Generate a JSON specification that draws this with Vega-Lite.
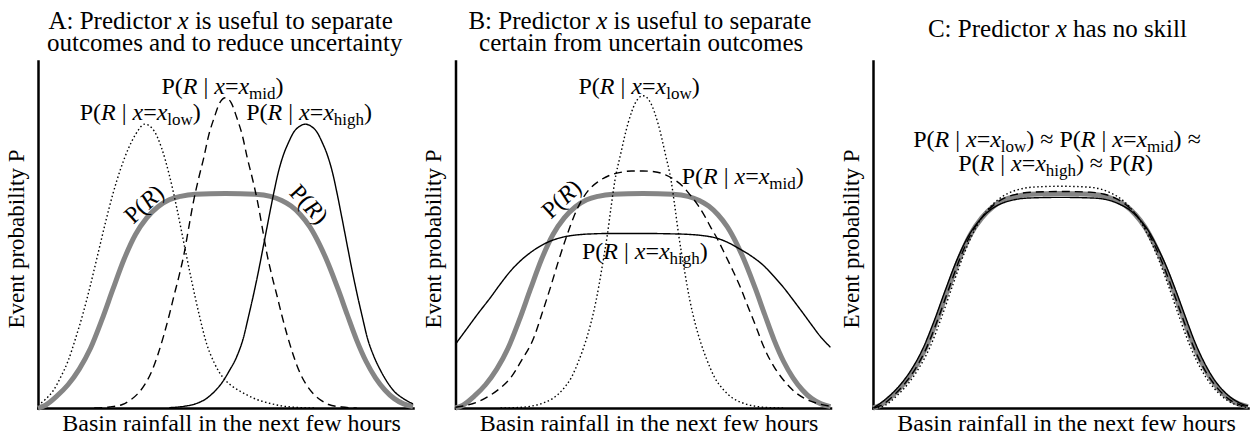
{
  "$schema": "https://vega.github.io/schema/vega-lite/v6.json",
  "padding": {"left": 5, "top": 9, "right": 0, "bottom": 0},
  "config": {
    "font": "Liberation Serif",
    "view": {"stroke": null},
    "axis": {"grid": false, "ticks": false, "labels": false, "domainColor": "#000", "domainWidth": 2.5, "domainCap": "square", "titleFont": "Liberation Serif", "titleFontWeight": "normal", "titleColor": "#000"},
    "text": {"font": "Liberation Serif", "baseline": "alphabetic", "fontSize": 24, "color": "#000"}
  },
  "data": {"values": [
    {"panel":"A","curve":"marginal","rain":0,"prob":0},{"panel":"A","curve":"marginal","rain":2,"prob":0.008},{"panel":"A","curve":"marginal","rain":5,"prob":0.034},{"panel":"A","curve":"marginal","rain":8,"prob":0.067},{"panel":"A","curve":"marginal","rain":11,"prob":0.112},{"panel":"A","curve":"marginal","rain":14,"prob":0.172},{"panel":"A","curve":"marginal","rain":17,"prob":0.253},{"panel":"A","curve":"marginal","rain":20,"prob":0.343},{"panel":"A","curve":"marginal","rain":23,"prob":0.43},{"panel":"A","curve":"marginal","rain":26,"prob":0.5},{"panel":"A","curve":"marginal","rain":29,"prob":0.548},{"panel":"A","curve":"marginal","rain":32,"prob":0.58},{"panel":"A","curve":"marginal","rain":35,"prob":0.6},{"panel":"A","curve":"marginal","rain":38,"prob":0.61},{"panel":"A","curve":"marginal","rain":42,"prob":0.616},{"panel":"A","curve":"marginal","rain":50,"prob":0.618},{"panel":"A","curve":"marginal","rain":58,"prob":0.616},{"panel":"A","curve":"marginal","rain":62,"prob":0.61},{"panel":"A","curve":"marginal","rain":65,"prob":0.598},{"panel":"A","curve":"marginal","rain":67.5,"prob":0.582},{"panel":"A","curve":"marginal","rain":70,"prob":0.557},{"panel":"A","curve":"marginal","rain":72.5,"prob":0.522},{"panel":"A","curve":"marginal","rain":75,"prob":0.473},{"panel":"A","curve":"marginal","rain":77.5,"prob":0.413},{"panel":"A","curve":"marginal","rain":80,"prob":0.343},{"panel":"A","curve":"marginal","rain":82.5,"prob":0.268},{"panel":"A","curve":"marginal","rain":85,"prob":0.195},{"panel":"A","curve":"marginal","rain":87.5,"prob":0.134},{"panel":"A","curve":"marginal","rain":90,"prob":0.087},{"panel":"A","curve":"marginal","rain":92.5,"prob":0.052},{"panel":"A","curve":"marginal","rain":95,"prob":0.027},{"panel":"A","curve":"marginal","rain":97.5,"prob":0.012},{"panel":"A","curve":"marginal","rain":100,"prob":0.004},
    {"panel":"B","curve":"marginal","rain":0,"prob":0},{"panel":"B","curve":"marginal","rain":2,"prob":0.008},{"panel":"B","curve":"marginal","rain":5,"prob":0.034},{"panel":"B","curve":"marginal","rain":8,"prob":0.067},{"panel":"B","curve":"marginal","rain":11,"prob":0.112},{"panel":"B","curve":"marginal","rain":14,"prob":0.172},{"panel":"B","curve":"marginal","rain":17,"prob":0.253},{"panel":"B","curve":"marginal","rain":20,"prob":0.343},{"panel":"B","curve":"marginal","rain":23,"prob":0.43},{"panel":"B","curve":"marginal","rain":26,"prob":0.5},{"panel":"B","curve":"marginal","rain":29,"prob":0.548},{"panel":"B","curve":"marginal","rain":32,"prob":0.58},{"panel":"B","curve":"marginal","rain":35,"prob":0.6},{"panel":"B","curve":"marginal","rain":38,"prob":0.61},{"panel":"B","curve":"marginal","rain":42,"prob":0.616},{"panel":"B","curve":"marginal","rain":50,"prob":0.618},{"panel":"B","curve":"marginal","rain":58,"prob":0.616},{"panel":"B","curve":"marginal","rain":62,"prob":0.61},{"panel":"B","curve":"marginal","rain":65,"prob":0.598},{"panel":"B","curve":"marginal","rain":67.5,"prob":0.582},{"panel":"B","curve":"marginal","rain":70,"prob":0.557},{"panel":"B","curve":"marginal","rain":72.5,"prob":0.522},{"panel":"B","curve":"marginal","rain":75,"prob":0.473},{"panel":"B","curve":"marginal","rain":77.5,"prob":0.413},{"panel":"B","curve":"marginal","rain":80,"prob":0.343},{"panel":"B","curve":"marginal","rain":82.5,"prob":0.268},{"panel":"B","curve":"marginal","rain":85,"prob":0.195},{"panel":"B","curve":"marginal","rain":87.5,"prob":0.134},{"panel":"B","curve":"marginal","rain":90,"prob":0.087},{"panel":"B","curve":"marginal","rain":92.5,"prob":0.052},{"panel":"B","curve":"marginal","rain":95,"prob":0.027},{"panel":"B","curve":"marginal","rain":97.5,"prob":0.012},{"panel":"B","curve":"marginal","rain":100,"prob":0.004},
    {"panel":"C","curve":"marginal","rain":0,"prob":0},{"panel":"C","curve":"marginal","rain":2,"prob":0.008},{"panel":"C","curve":"marginal","rain":5,"prob":0.034},{"panel":"C","curve":"marginal","rain":8,"prob":0.067},{"panel":"C","curve":"marginal","rain":11,"prob":0.112},{"panel":"C","curve":"marginal","rain":14,"prob":0.172},{"panel":"C","curve":"marginal","rain":17,"prob":0.253},{"panel":"C","curve":"marginal","rain":20,"prob":0.343},{"panel":"C","curve":"marginal","rain":23,"prob":0.43},{"panel":"C","curve":"marginal","rain":26,"prob":0.5},{"panel":"C","curve":"marginal","rain":29,"prob":0.548},{"panel":"C","curve":"marginal","rain":32,"prob":0.58},{"panel":"C","curve":"marginal","rain":35,"prob":0.6},{"panel":"C","curve":"marginal","rain":38,"prob":0.61},{"panel":"C","curve":"marginal","rain":42,"prob":0.616},{"panel":"C","curve":"marginal","rain":50,"prob":0.618},{"panel":"C","curve":"marginal","rain":58,"prob":0.616},{"panel":"C","curve":"marginal","rain":62,"prob":0.61},{"panel":"C","curve":"marginal","rain":65,"prob":0.598},{"panel":"C","curve":"marginal","rain":67.5,"prob":0.582},{"panel":"C","curve":"marginal","rain":70,"prob":0.557},{"panel":"C","curve":"marginal","rain":72.5,"prob":0.522},{"panel":"C","curve":"marginal","rain":75,"prob":0.473},{"panel":"C","curve":"marginal","rain":77.5,"prob":0.413},{"panel":"C","curve":"marginal","rain":80,"prob":0.343},{"panel":"C","curve":"marginal","rain":82.5,"prob":0.268},{"panel":"C","curve":"marginal","rain":85,"prob":0.195},{"panel":"C","curve":"marginal","rain":87.5,"prob":0.134},{"panel":"C","curve":"marginal","rain":90,"prob":0.087},{"panel":"C","curve":"marginal","rain":92.5,"prob":0.052},{"panel":"C","curve":"marginal","rain":95,"prob":0.027},{"panel":"C","curve":"marginal","rain":97.5,"prob":0.012},{"panel":"C","curve":"marginal","rain":100,"prob":0.004},

    {"panel":"A","curve":"low","rain":0,"prob":0.008},{"panel":"A","curve":"low","rain":2,"prob":0.025},{"panel":"A","curve":"low","rain":4,"prob":0.049},{"panel":"A","curve":"low","rain":6,"prob":0.088},{"panel":"A","curve":"low","rain":8,"prob":0.135},{"panel":"A","curve":"low","rain":10,"prob":0.2},{"panel":"A","curve":"low","rain":12,"prob":0.272},{"panel":"A","curve":"low","rain":14,"prob":0.355},{"panel":"A","curve":"low","rain":16,"prob":0.445},{"panel":"A","curve":"low","rain":18,"prob":0.535},{"panel":"A","curve":"low","rain":20,"prob":0.618},{"panel":"A","curve":"low","rain":22,"prob":0.688},{"panel":"A","curve":"low","rain":24,"prob":0.745},{"panel":"A","curve":"low","rain":26,"prob":0.788},{"panel":"A","curve":"low","rain":28.5,"prob":0.818},{"panel":"A","curve":"low","rain":31,"prob":0.798},{"panel":"A","curve":"low","rain":33,"prob":0.748},{"panel":"A","curve":"low","rain":35,"prob":0.672},{"panel":"A","curve":"low","rain":37,"prob":0.577},{"panel":"A","curve":"low","rain":39,"prob":0.47},{"panel":"A","curve":"low","rain":41,"prob":0.365},{"panel":"A","curve":"low","rain":43,"prob":0.268},{"panel":"A","curve":"low","rain":45,"prob":0.184},{"panel":"A","curve":"low","rain":47,"prob":0.13},{"panel":"A","curve":"low","rain":49.3,"prob":0.088},{"panel":"A","curve":"low","rain":51.5,"prob":0.065},{"panel":"A","curve":"low","rain":53.8,"prob":0.049},{"panel":"A","curve":"low","rain":56,"prob":0.036},{"panel":"A","curve":"low","rain":58.2,"prob":0.025},{"panel":"A","curve":"low","rain":60.5,"prob":0.017},{"panel":"A","curve":"low","rain":62.7,"prob":0.011},{"panel":"A","curve":"low","rain":65,"prob":0.006},{"panel":"A","curve":"low","rain":67.3,"prob":0.003},{"panel":"A","curve":"low","rain":70,"prob":0.001},{"panel":"A","curve":"low","rain":74,"prob":0},

    {"panel":"A","curve":"mid","rain":15,"prob":0},{"panel":"A","curve":"mid","rain":19,"prob":0.003},{"panel":"A","curve":"mid","rain":22.5,"prob":0.01},{"panel":"A","curve":"mid","rain":24.5,"prob":0.022},{"panel":"A","curve":"mid","rain":26.5,"prob":0.04},{"panel":"A","curve":"mid","rain":28.5,"prob":0.068},{"panel":"A","curve":"mid","rain":30.5,"prob":0.11},{"panel":"A","curve":"mid","rain":32,"prob":0.155},{"panel":"A","curve":"mid","rain":33.5,"prob":0.208},{"panel":"A","curve":"mid","rain":35,"prob":0.268},{"panel":"A","curve":"mid","rain":36.3,"prob":0.325},{"panel":"A","curve":"mid","rain":37.6,"prob":0.38},{"panel":"A","curve":"mid","rain":39,"prob":0.447},{"panel":"A","curve":"mid","rain":40.2,"prob":0.52},{"panel":"A","curve":"mid","rain":41.5,"prob":0.597},{"panel":"A","curve":"mid","rain":42.8,"prob":0.66},{"panel":"A","curve":"mid","rain":44.2,"prob":0.721},{"panel":"A","curve":"mid","rain":45.5,"prob":0.785},{"panel":"A","curve":"mid","rain":47,"prob":0.837},{"panel":"A","curve":"mid","rain":48.5,"prob":0.88},{"panel":"A","curve":"mid","rain":50,"prob":0.894},{"panel":"A","curve":"mid","rain":51.5,"prob":0.88},{"panel":"A","curve":"mid","rain":53,"prob":0.837},{"panel":"A","curve":"mid","rain":54.5,"prob":0.785},{"panel":"A","curve":"mid","rain":55.8,"prob":0.721},{"panel":"A","curve":"mid","rain":57.2,"prob":0.66},{"panel":"A","curve":"mid","rain":58.5,"prob":0.597},{"panel":"A","curve":"mid","rain":59.8,"prob":0.52},{"panel":"A","curve":"mid","rain":61,"prob":0.447},{"panel":"A","curve":"mid","rain":62.4,"prob":0.38},{"panel":"A","curve":"mid","rain":63.7,"prob":0.325},{"panel":"A","curve":"mid","rain":65,"prob":0.268},{"panel":"A","curve":"mid","rain":66.5,"prob":0.208},{"panel":"A","curve":"mid","rain":68,"prob":0.155},{"panel":"A","curve":"mid","rain":69.5,"prob":0.11},{"panel":"A","curve":"mid","rain":71.5,"prob":0.068},{"panel":"A","curve":"mid","rain":73.5,"prob":0.04},{"panel":"A","curve":"mid","rain":75.5,"prob":0.022},{"panel":"A","curve":"mid","rain":77.5,"prob":0.01},{"panel":"A","curve":"mid","rain":81,"prob":0.003},{"panel":"A","curve":"mid","rain":85,"prob":0},

    {"panel":"A","curve":"high","rain":35,"prob":0.001},{"panel":"A","curve":"high","rain":39,"prob":0.005},{"panel":"A","curve":"high","rain":42,"prob":0.012},{"panel":"A","curve":"high","rain":45,"prob":0.028},{"panel":"A","curve":"high","rain":47.2,"prob":0.049},{"panel":"A","curve":"high","rain":49,"prob":0.072},{"panel":"A","curve":"high","rain":51,"prob":0.107},{"panel":"A","curve":"high","rain":53,"prob":0.148},{"panel":"A","curve":"high","rain":54.8,"prob":0.203},{"panel":"A","curve":"high","rain":56.1,"prob":0.262},{"panel":"A","curve":"high","rain":57.5,"prob":0.328},{"panel":"A","curve":"high","rain":58.9,"prob":0.4},{"panel":"A","curve":"high","rain":60.2,"prob":0.472},{"panel":"A","curve":"high","rain":61.5,"prob":0.545},{"panel":"A","curve":"high","rain":62.8,"prob":0.616},{"panel":"A","curve":"high","rain":64.1,"prob":0.68},{"panel":"A","curve":"high","rain":65.5,"prob":0.731},{"panel":"A","curve":"high","rain":66.8,"prob":0.765},{"panel":"A","curve":"high","rain":68.2,"prob":0.795},{"panel":"A","curve":"high","rain":69.8,"prob":0.812},{"panel":"A","curve":"high","rain":71.3,"prob":0.818},{"panel":"A","curve":"high","rain":72.8,"prob":0.812},{"panel":"A","curve":"high","rain":74.4,"prob":0.795},{"panel":"A","curve":"high","rain":75.8,"prob":0.765},{"panel":"A","curve":"high","rain":77.1,"prob":0.731},{"panel":"A","curve":"high","rain":78.5,"prob":0.68},{"panel":"A","curve":"high","rain":79.8,"prob":0.616},{"panel":"A","curve":"high","rain":81.1,"prob":0.545},{"panel":"A","curve":"high","rain":82.4,"prob":0.472},{"panel":"A","curve":"high","rain":83.7,"prob":0.4},{"panel":"A","curve":"high","rain":85.1,"prob":0.328},{"panel":"A","curve":"high","rain":86.5,"prob":0.262},{"panel":"A","curve":"high","rain":87.8,"prob":0.203},{"panel":"A","curve":"high","rain":89.6,"prob":0.148},{"panel":"A","curve":"high","rain":91.4,"prob":0.107},{"panel":"A","curve":"high","rain":93.3,"prob":0.072},{"panel":"A","curve":"high","rain":94.9,"prob":0.049},{"panel":"A","curve":"high","rain":97.3,"prob":0.028},{"panel":"A","curve":"high","rain":100,"prob":0.012},

    {"panel":"B","curve":"low","rain":12,"prob":0},{"panel":"B","curve":"low","rain":16,"prob":0.001},{"panel":"B","curve":"low","rain":20,"prob":0.005},{"panel":"B","curve":"low","rain":23,"prob":0.013},{"panel":"B","curve":"low","rain":26,"prob":0.028},{"panel":"B","curve":"low","rain":28.5,"prob":0.052},{"panel":"B","curve":"low","rain":31,"prob":0.09},{"panel":"B","curve":"low","rain":33,"prob":0.14},{"panel":"B","curve":"low","rain":34.5,"prob":0.185},{"panel":"B","curve":"low","rain":36,"prob":0.24},{"panel":"B","curve":"low","rain":37.5,"prob":0.31},{"panel":"B","curve":"low","rain":39,"prob":0.4},{"panel":"B","curve":"low","rain":40.5,"prob":0.5},{"panel":"B","curve":"low","rain":41.5,"prob":0.58},{"panel":"B","curve":"low","rain":42.5,"prob":0.655},{"panel":"B","curve":"low","rain":44,"prob":0.73},{"panel":"B","curve":"low","rain":46,"prob":0.82},{"panel":"B","curve":"low","rain":48,"prob":0.88},{"panel":"B","curve":"low","rain":50,"prob":0.9},{"panel":"B","curve":"low","rain":52,"prob":0.88},{"panel":"B","curve":"low","rain":54,"prob":0.82},{"panel":"B","curve":"low","rain":56,"prob":0.73},{"panel":"B","curve":"low","rain":57.5,"prob":0.655},{"panel":"B","curve":"low","rain":58.5,"prob":0.58},{"panel":"B","curve":"low","rain":59.5,"prob":0.5},{"panel":"B","curve":"low","rain":61,"prob":0.4},{"panel":"B","curve":"low","rain":62.5,"prob":0.31},{"panel":"B","curve":"low","rain":64,"prob":0.24},{"panel":"B","curve":"low","rain":65.5,"prob":0.185},{"panel":"B","curve":"low","rain":67,"prob":0.14},{"panel":"B","curve":"low","rain":69,"prob":0.09},{"panel":"B","curve":"low","rain":71.5,"prob":0.052},{"panel":"B","curve":"low","rain":74,"prob":0.028},{"panel":"B","curve":"low","rain":77,"prob":0.013},{"panel":"B","curve":"low","rain":80,"prob":0.005},{"panel":"B","curve":"low","rain":84,"prob":0.001},{"panel":"B","curve":"low","rain":88,"prob":0},

    {"panel":"B","curve":"mid","rain":0,"prob":0.002},{"panel":"B","curve":"mid","rain":3,"prob":0.008},{"panel":"B","curve":"mid","rain":6,"prob":0.018},{"panel":"B","curve":"mid","rain":9,"prob":0.035},{"panel":"B","curve":"mid","rain":12,"prob":0.058},{"panel":"B","curve":"mid","rain":14.7,"prob":0.087},{"panel":"B","curve":"mid","rain":17.5,"prob":0.135},{"panel":"B","curve":"mid","rain":20.9,"prob":0.203},{"panel":"B","curve":"mid","rain":23,"prob":0.27},{"panel":"B","curve":"mid","rain":25.3,"prob":0.347},{"panel":"B","curve":"mid","rain":27.5,"prob":0.425},{"panel":"B","curve":"mid","rain":29.8,"prob":0.5},{"panel":"B","curve":"mid","rain":31.5,"prob":0.55},{"panel":"B","curve":"mid","rain":33.3,"prob":0.592},{"panel":"B","curve":"mid","rain":35.5,"prob":0.628},{"panel":"B","curve":"mid","rain":38,"prob":0.652},{"panel":"B","curve":"mid","rain":41,"prob":0.67},{"panel":"B","curve":"mid","rain":44,"prob":0.679},{"panel":"B","curve":"mid","rain":47,"prob":0.683},{"panel":"B","curve":"mid","rain":50,"prob":0.683},{"panel":"B","curve":"mid","rain":53,"prob":0.681},{"panel":"B","curve":"mid","rain":56,"prob":0.672},{"panel":"B","curve":"mid","rain":58.5,"prob":0.657},{"panel":"B","curve":"mid","rain":60.5,"prob":0.64},{"panel":"B","curve":"mid","rain":62.5,"prob":0.615},{"panel":"B","curve":"mid","rain":64.5,"prob":0.587},{"panel":"B","curve":"mid","rain":66.5,"prob":0.552},{"panel":"B","curve":"mid","rain":68,"prob":0.522},{"panel":"B","curve":"mid","rain":69.8,"prob":0.488},{"panel":"B","curve":"mid","rain":72,"prob":0.44},{"panel":"B","curve":"mid","rain":74,"prob":0.395},{"panel":"B","curve":"mid","rain":76,"prob":0.347},{"panel":"B","curve":"mid","rain":78,"prob":0.292},{"panel":"B","curve":"mid","rain":80,"prob":0.238},{"panel":"B","curve":"mid","rain":81.5,"prob":0.195},{"panel":"B","curve":"mid","rain":83.1,"prob":0.155},{"panel":"B","curve":"mid","rain":85,"prob":0.118},{"panel":"B","curve":"mid","rain":87.5,"prob":0.08},{"panel":"B","curve":"mid","rain":90.2,"prob":0.049},{"panel":"B","curve":"mid","rain":93.5,"prob":0.025},{"panel":"B","curve":"mid","rain":97.3,"prob":0.011},{"panel":"B","curve":"mid","rain":100,"prob":0.005},

    {"panel":"B","curve":"high","rain":0,"prob":0.184},{"panel":"B","curve":"high","rain":3,"prob":0.228},{"panel":"B","curve":"high","rain":6,"prob":0.272},{"panel":"B","curve":"high","rain":9.3,"prob":0.318},{"panel":"B","curve":"high","rain":12,"prob":0.358},{"panel":"B","curve":"high","rain":14.7,"prob":0.395},{"panel":"B","curve":"high","rain":17.3,"prob":0.424},{"panel":"B","curve":"high","rain":20,"prob":0.448},{"panel":"B","curve":"high","rain":22.5,"prob":0.466},{"panel":"B","curve":"high","rain":25.3,"prob":0.481},{"panel":"B","curve":"high","rain":28.5,"prob":0.492},{"panel":"B","curve":"high","rain":32.5,"prob":0.499},{"panel":"B","curve":"high","rain":37,"prob":0.502},{"panel":"B","curve":"high","rain":41.3,"prob":0.503},{"panel":"B","curve":"high","rain":50,"prob":0.503},{"panel":"B","curve":"high","rain":57,"prob":0.502},{"panel":"B","curve":"high","rain":62.7,"prob":0.5},{"panel":"B","curve":"high","rain":66.5,"prob":0.496},{"panel":"B","curve":"high","rain":69.8,"prob":0.489},{"panel":"B","curve":"high","rain":73,"prob":0.475},{"panel":"B","curve":"high","rain":76,"prob":0.457},{"panel":"B","curve":"high","rain":79,"prob":0.437},{"panel":"B","curve":"high","rain":82.2,"prob":0.41},{"panel":"B","curve":"high","rain":85,"prob":0.378},{"panel":"B","curve":"high","rain":87.5,"prob":0.347},{"panel":"B","curve":"high","rain":90.2,"prob":0.309},{"panel":"B","curve":"high","rain":92.9,"prob":0.27},{"panel":"B","curve":"high","rain":95.2,"prob":0.236},{"panel":"B","curve":"high","rain":97.3,"prob":0.206},{"panel":"B","curve":"high","rain":100,"prob":0.175},

    {"panel":"C","curve":"high","rain":0,"prob":0},{"panel":"C","curve":"high","rain":1.2,"prob":0.008},{"panel":"C","curve":"high","rain":4.2,"prob":0.033},{"panel":"C","curve":"high","rain":7.2,"prob":0.066},{"panel":"C","curve":"high","rain":10.2,"prob":0.11},{"panel":"C","curve":"high","rain":13.2,"prob":0.169},{"panel":"C","curve":"high","rain":16.2,"prob":0.248},{"panel":"C","curve":"high","rain":19.2,"prob":0.337},{"panel":"C","curve":"high","rain":22.2,"prob":0.422},{"panel":"C","curve":"high","rain":25.2,"prob":0.491},{"panel":"C","curve":"high","rain":28.2,"prob":0.538},{"panel":"C","curve":"high","rain":31.2,"prob":0.57},{"panel":"C","curve":"high","rain":34.2,"prob":0.589},{"panel":"C","curve":"high","rain":37.2,"prob":0.599},{"panel":"C","curve":"high","rain":41.2,"prob":0.605},{"panel":"C","curve":"high","rain":50,"prob":0.607},{"panel":"C","curve":"high","rain":58.8,"prob":0.605},{"panel":"C","curve":"high","rain":62.8,"prob":0.599},{"panel":"C","curve":"high","rain":65.8,"prob":0.587},{"panel":"C","curve":"high","rain":68.3,"prob":0.572},{"panel":"C","curve":"high","rain":70.8,"prob":0.547},{"panel":"C","curve":"high","rain":73.3,"prob":0.513},{"panel":"C","curve":"high","rain":75.8,"prob":0.464},{"panel":"C","curve":"high","rain":78.3,"prob":0.406},{"panel":"C","curve":"high","rain":80.8,"prob":0.337},{"panel":"C","curve":"high","rain":83.3,"prob":0.263},{"panel":"C","curve":"high","rain":85.8,"prob":0.191},{"panel":"C","curve":"high","rain":88.3,"prob":0.132},{"panel":"C","curve":"high","rain":90.8,"prob":0.085},{"panel":"C","curve":"high","rain":93.3,"prob":0.051},{"panel":"C","curve":"high","rain":95.8,"prob":0.027},{"panel":"C","curve":"high","rain":98.3,"prob":0.012},{"panel":"C","curve":"high","rain":100,"prob":0.006},

    {"panel":"C","curve":"mid","rain":0.3,"prob":0},{"panel":"C","curve":"mid","rain":2.3,"prob":0.008},{"panel":"C","curve":"mid","rain":5.3,"prob":0.034},{"panel":"C","curve":"mid","rain":8.3,"prob":0.068},{"panel":"C","curve":"mid","rain":11.3,"prob":0.113},{"panel":"C","curve":"mid","rain":14.3,"prob":0.174},{"panel":"C","curve":"mid","rain":17.3,"prob":0.256},{"panel":"C","curve":"mid","rain":20.3,"prob":0.346},{"panel":"C","curve":"mid","rain":23.3,"prob":0.434},{"panel":"C","curve":"mid","rain":26.3,"prob":0.505},{"panel":"C","curve":"mid","rain":29.3,"prob":0.553},{"panel":"C","curve":"mid","rain":32.3,"prob":0.586},{"panel":"C","curve":"mid","rain":35.3,"prob":0.606},{"panel":"C","curve":"mid","rain":38.3,"prob":0.616},{"panel":"C","curve":"mid","rain":42.3,"prob":0.622},{"panel":"C","curve":"mid","rain":50,"prob":0.624},{"panel":"C","curve":"mid","rain":57.7,"prob":0.622},{"panel":"C","curve":"mid","rain":61.7,"prob":0.616},{"panel":"C","curve":"mid","rain":64.7,"prob":0.604},{"panel":"C","curve":"mid","rain":67.2,"prob":0.588},{"panel":"C","curve":"mid","rain":69.7,"prob":0.563},{"panel":"C","curve":"mid","rain":72.2,"prob":0.527},{"panel":"C","curve":"mid","rain":74.7,"prob":0.478},{"panel":"C","curve":"mid","rain":77.2,"prob":0.417},{"panel":"C","curve":"mid","rain":79.7,"prob":0.346},{"panel":"C","curve":"mid","rain":82.2,"prob":0.271},{"panel":"C","curve":"mid","rain":84.7,"prob":0.197},{"panel":"C","curve":"mid","rain":87.2,"prob":0.135},{"panel":"C","curve":"mid","rain":89.7,"prob":0.088},{"panel":"C","curve":"mid","rain":92.2,"prob":0.053},{"panel":"C","curve":"mid","rain":94.7,"prob":0.027},{"panel":"C","curve":"mid","rain":97.2,"prob":0.012},{"panel":"C","curve":"mid","rain":99.7,"prob":0.004},

    {"panel":"C","curve":"low","rain":1.3,"prob":0},{"panel":"C","curve":"low","rain":3.3,"prob":0.008},{"panel":"C","curve":"low","rain":6.3,"prob":0.035},{"panel":"C","curve":"low","rain":9.3,"prob":0.069},{"panel":"C","curve":"low","rain":12.3,"prob":0.116},{"panel":"C","curve":"low","rain":15.3,"prob":0.178},{"panel":"C","curve":"low","rain":18.3,"prob":0.262},{"panel":"C","curve":"low","rain":21.3,"prob":0.355},{"panel":"C","curve":"low","rain":24.3,"prob":0.445},{"panel":"C","curve":"low","rain":27.3,"prob":0.517},{"panel":"C","curve":"low","rain":30.3,"prob":0.567},{"panel":"C","curve":"low","rain":33.3,"prob":0.6},{"panel":"C","curve":"low","rain":36.3,"prob":0.62},{"panel":"C","curve":"low","rain":39.3,"prob":0.631},{"panel":"C","curve":"low","rain":43.3,"prob":0.637},{"panel":"C","curve":"low","rain":50,"prob":0.639},{"panel":"C","curve":"low","rain":56.7,"prob":0.637},{"panel":"C","curve":"low","rain":60.7,"prob":0.631},{"panel":"C","curve":"low","rain":63.7,"prob":0.618},{"panel":"C","curve":"low","rain":66.2,"prob":0.602},{"panel":"C","curve":"low","rain":68.7,"prob":0.576},{"panel":"C","curve":"low","rain":71.2,"prob":0.54},{"panel":"C","curve":"low","rain":73.7,"prob":0.489},{"panel":"C","curve":"low","rain":76.2,"prob":0.427},{"panel":"C","curve":"low","rain":78.7,"prob":0.355},{"panel":"C","curve":"low","rain":81.2,"prob":0.277},{"panel":"C","curve":"low","rain":83.7,"prob":0.202},{"panel":"C","curve":"low","rain":86.2,"prob":0.139},{"panel":"C","curve":"low","rain":88.7,"prob":0.09},{"panel":"C","curve":"low","rain":91.2,"prob":0.054},{"panel":"C","curve":"low","rain":93.7,"prob":0.028},{"panel":"C","curve":"low","rain":96.2,"prob":0.012},{"panel":"C","curve":"low","rain":98.7,"prob":0.004},{"panel":"C","curve":"low","rain":100,"prob":0.001},

    {"panel":"A","given":"low","rain":11.1,"prob":0.829},
    {"panel":"A","given":"mid","rain":32.9,"prob":0.904},
    {"panel":"A","given":"high","rain":55.5,"prob":0.829},
    {"panel":"B","given":"low","rain":32.8,"prob":0.906},
    {"panel":"B","given":"mid","rain":60.3,"prob":0.646},
    {"panel":"B","given":"high","rain":33.7,"prob":0.429},
    {"panel":"C","given":"low","rain":10.7,"prob":0.753},
    {"panel":"C","given":"mid","rain":49.7,"prob":0.753},
    {"panel":"C","given":"high","rain":22.7,"prob":0.683},

    {"panel":"A","marginal":"rise","rain":29.7,"prob":0.571},
    {"panel":"A","marginal":"fall","rain":70.7,"prob":0.572},
    {"panel":"B","marginal":"rise","rain":29.7,"prob":0.586},
    {"panel":"C","marginal":"level","rain":68.8,"prob":0.683},

    {"panel":"C","sign":"≈","rain":44.6,"prob":0.753},
    {"panel":"C","sign":"≈","rain":83.9,"prob":0.753},
    {"panel":"C","sign":"≈","rain":57.8,"prob":0.683},

    {"panel":"A","heading":"A: Predictor","rest":"is useful to separate","rain":38.7,"prob":1.092},
    {"panel":"B","heading":"B: Predictor","rest":"is useful to separate","rain":39.0,"prob":1.092},
    {"panel":"C","heading":"C: Predictor","rest":"has no skill","rain":50.2,"prob":1.07},
    {"panel":"A","second":"outcomes and to reduce uncertainty","rain":49.8,"prob":1.029},
    {"panel":"B","second":"certain from uncertain outcomes","rain":49.5,"prob":1.029}
  ]},
  "facet": {"column": {"field": "panel", "type": "nominal", "title": null, "header": {"labels": false, "title": null}}},
  "spacing": 42.5,
  "bounds": "flush",
  "resolve": {"axis": {"y": "independent"}},
  "spec": {
    "width": 375,
    "height": 347,
    "encoding": {
      "x": {"field": "rain", "type": "quantitative", "scale": {"domain": [0, 100], "nice": false, "zero": false}, "axis": {"title": "Basin rainfall in the next few hours", "titleFontSize": 24, "titlePadding": 3, "titleX": 193}},
      "y": {"field": "prob", "type": "quantitative", "scale": {"domain": [0, 1], "nice": false}, "axis": {"title": "Event probability P", "titleFontSize": 23, "titlePadding": 10, "titleY": 177.5}}
    },
    "layer": [
      {"transform": [{"filter": "datum.curve == 'marginal'"}], "mark": {"type": "line", "interpolate": "monotone", "color": "#858585", "strokeWidth": 5}},
      {"transform": [{"filter": "datum.curve != null && datum.curve != 'marginal'"}], "mark": {"type": "line", "interpolate": "monotone", "color": "#000", "strokeWidth": 1.4},
       "encoding": {"strokeDash": {"field": "curve", "type": "nominal", "scale": {"domain": ["low", "mid", "high"], "range": [[1.5, 2.5], [8, 5], [1, 0]]}, "legend": null}}},

      {"transform": [{"filter": "datum.given != null"}], "mark": {"type": "text", "text": "P(", "align": "left", "dx": 0}},
      {"transform": [{"filter": "datum.given != null"}], "mark": {"type": "text", "text": "R", "align": "left", "dx": 21.3, "fontStyle": "italic"}},
      {"transform": [{"filter": "datum.given != null"}], "mark": {"type": "text", "text": "|", "align": "left", "dx": 42}},
      {"transform": [{"filter": "datum.given != null"}], "mark": {"type": "text", "text": "x", "align": "left", "dx": 52.8, "fontStyle": "italic"}},
      {"transform": [{"filter": "datum.given != null"}], "mark": {"type": "text", "text": "=", "align": "left", "dx": 63.5}},
      {"transform": [{"filter": "datum.given != null"}], "mark": {"type": "text", "text": "x", "align": "left", "dx": 77, "fontStyle": "italic"}},
      {"transform": [{"filter": "datum.given != null"}], "mark": {"type": "text", "align": "left", "dx": 87.7, "dy": 5, "fontSize": 17}, "encoding": {"text": {"field": "given", "type": "nominal"}}},
      {"transform": [{"filter": "datum.given == 'low'"}], "mark": {"type": "text", "text": ")", "align": "left", "dx": 113.2}},
      {"transform": [{"filter": "datum.given == 'mid'"}], "mark": {"type": "text", "text": ")", "align": "left", "dx": 114.1}},
      {"transform": [{"filter": "datum.given == 'high'"}], "mark": {"type": "text", "text": ")", "align": "left", "dx": 117.9}},

      {"transform": [{"filter": "datum.marginal != null"}], "mark": {"type": "text", "text": "P(", "align": "center", "dx": -11.3},
       "encoding": {"angle": {"condition": [{"test": "datum.marginal == 'rise'", "value": -43}, {"test": "datum.marginal == 'fall'", "value": 47}], "value": 0}}},
      {"transform": [{"filter": "datum.marginal != null"}], "mark": {"type": "text", "text": "R", "align": "center", "dx": 6.7, "fontStyle": "italic"},
       "encoding": {"angle": {"condition": [{"test": "datum.marginal == 'rise'", "value": -43}, {"test": "datum.marginal == 'fall'", "value": 47}], "value": 0}}},
      {"transform": [{"filter": "datum.marginal != null"}], "mark": {"type": "text", "text": ")", "align": "center", "dx": 18},
       "encoding": {"angle": {"condition": [{"test": "datum.marginal == 'rise'", "value": -43}, {"test": "datum.marginal == 'fall'", "value": 47}], "value": 0}}},

      {"transform": [{"filter": "datum.sign != null"}], "mark": {"type": "text", "align": "left"}, "encoding": {"text": {"field": "sign", "type": "nominal"}}},

      {"transform": [{"filter": "datum.heading != null"}], "mark": {"type": "text", "align": "right", "dx": -11.8, "fontSize": 25}, "encoding": {"text": {"field": "heading", "type": "nominal"}}},
      {"transform": [{"filter": "datum.heading != null"}], "mark": {"type": "text", "text": "x", "align": "center", "fontSize": 25, "fontStyle": "italic"}},
      {"transform": [{"filter": "datum.heading != null"}], "mark": {"type": "text", "align": "left", "dx": 11.8, "fontSize": 25}, "encoding": {"text": {"field": "rest", "type": "nominal"}}},
      {"transform": [{"filter": "datum.second != null"}], "mark": {"type": "text", "align": "center", "fontSize": 25}, "encoding": {"text": {"field": "second", "type": "nominal"}}}
    ]
  }
}
